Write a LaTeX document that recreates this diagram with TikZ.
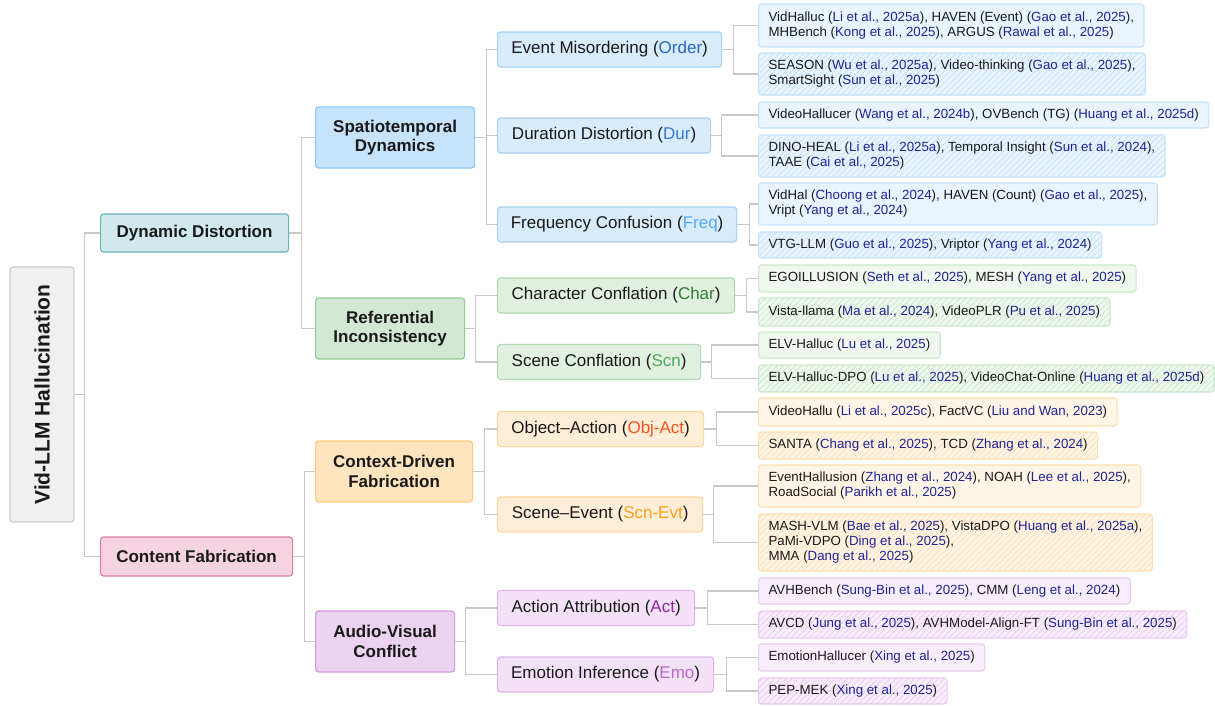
\documentclass[tikz,border=0pt]{standalone}
\usepackage{fontspec}
\setmainfont{Liberation Sans}
\usetikzlibrary{patterns.meta}
\definecolor{lineG}{RGB}{200,200,200}
\definecolor{txt}{RGB}{25,25,25}
\definecolor{citeC}{RGB}{30,35,150}
\definecolor{rootF}{RGB}{240,240,240}\definecolor{rootB}{RGB}{205,205,205}
\definecolor{dynF}{RGB}{210,233,235}\definecolor{dynB}{RGB}{105,182,188}
\definecolor{conF}{RGB}{246,211,224}\definecolor{conB}{RGB}{225,125,162}
% blue
\definecolor{bF2}{RGB}{198,227,251}\definecolor{bB2}{RGB}{140,200,245}
\definecolor{bF3}{RGB}{216,236,252}\definecolor{bB3}{RGB}{165,210,245}
\definecolor{bF4}{RGB}{233,244,254}\definecolor{bB4}{RGB}{196,226,250}
% green
\definecolor{gF2}{RGB}{211,232,211}\definecolor{gB2}{RGB}{145,203,145}
\definecolor{gF3}{RGB}{226,240,226}\definecolor{gB3}{RGB}{175,217,175}
\definecolor{gF4}{RGB}{239,247,239}\definecolor{gB4}{RGB}{202,232,202}
% orange
\definecolor{oF2}{RGB}{255,228,190}\definecolor{oB2}{RGB}{255,202,125}
\definecolor{oF3}{RGB}{255,238,215}\definecolor{oB3}{RGB}{255,212,155}
\definecolor{oF4}{RGB}{255,245,231}\definecolor{oB4}{RGB}{255,222,175}
% purple
\definecolor{pF2}{RGB}{234,210,240}\definecolor{pB2}{RGB}{212,155,222}
\definecolor{pF3}{RGB}{243,226,247}\definecolor{pB3}{RGB}{222,182,232}
\definecolor{pF4}{RGB}{248,238,251}\definecolor{pB4}{RGB}{232,202,240}
% abbreviations
\definecolor{cOrder}{RGB}{40,105,192}\definecolor{cDur}{RGB}{55,125,205}\definecolor{cFreq}{RGB}{85,170,245}
\definecolor{cChar}{RGB}{46,125,50}\definecolor{cScn}{RGB}{76,170,80}
\definecolor{cObj}{RGB}{244,81,30}\definecolor{cSE}{RGB}{250,160,30}
\definecolor{cAct}{RGB}{142,36,170}\definecolor{cEmo}{RGB}{186,104,200}
\newcommand\mycite[1]{\textcolor{citeC}{#1}}
\tikzset{
  conn/.style={draw=lineG, line width=1.2pt},
  box/.style={rounded corners=3pt, line width=1.2pt, inner sep=0pt, align=center, text=txt},
  rootbox/.style={box, draw=rootB, fill=rootF, font=\bfseries\fontsize{21}{24}\selectfont},
  lvA/.style={box, font=\bfseries\fontsize{17}{19.5}\selectfont, anchor=west},
  lvB/.style={box, font=\bfseries\fontsize{17}{19.5}\selectfont, anchor=west, minimum height=61pt},
  lvC/.style={box, font=\fontsize{17}{20}\selectfont, anchor=west, minimum height=35pt},
  leaf/.style={rounded corners=3pt, line width=1.1pt, anchor=west, align=left, inner xsep=10pt, inner ysep=3pt, text=txt, font=\fontsize{13.3}{15}\selectfont},
  hatch/.style={postaction={pattern={Lines[angle=45,distance=4.3pt,line width=0.7pt]}, pattern color=#1}},
}
\begin{document}
\begin{tikzpicture}[x=1pt,y=-1pt]
\useasboundingbox (0,0) rectangle (1215,705);
% root
\node[rootbox, rotate=90, minimum width=255pt, minimum height=64pt] (root) at (42,394.5) {Vid-LLM Hallucination};
% level 1
\node[lvA, draw=dynB, fill=dynF, minimum width=188pt, minimum height=38pt] (dyn) at (100,233) {Dynamic Distortion};
\node[lvA, draw=conB, fill=conF, minimum width=192pt, minimum height=39pt] (con) at (100,556.5) {Content Fabrication};
% level 2
\node[lvB, draw=bB2, fill=bF2, minimum width=159pt] (spa) at (315,137.5) {Spatiotemporal\\Dynamics};
\node[lvB, draw=gB2, fill=gF2, minimum width=149pt] (ref) at (315,328.5) {Referential\\Inconsistency};
\node[lvB, draw=oB2, fill=oF2, minimum width=157pt] (ctx) at (315,471.5) {Context-Driven\\Fabrication};
\node[lvB, draw=pB2, fill=pF2, minimum width=139pt] (avc) at (315,641.5) {Audio-Visual\\Conflict};
% level 3
\node[lvC, draw=bB3, fill=bF3, minimum width=224pt] (ord) at (497,49.5) {Event Misordering (\textcolor{cOrder}{Order})};
\node[lvC, draw=bB3, fill=bF3, minimum width=213pt] (dur) at (497,135.5) {Duration Distortion (\textcolor{cDur}{Dur})};
\node[lvC, draw=bB3, fill=bF3, minimum width=239pt] (frq) at (497,224.5) {Frequency Confusion (\textcolor{cFreq}{Freq})};
\node[lvC, draw=gB3, fill=gF3, minimum width=237pt] (chr) at (497,295.5) {Character Conflation (\textcolor{cChar}{Char})};
\node[lvC, draw=gB3, fill=gF3, minimum width=203pt] (scn) at (497,362) {Scene Conflation (\textcolor{cScn}{Scn})};
\node[lvC, draw=oB3, fill=oF3, minimum width=206pt] (oba) at (497,429) {Object--Action (\textcolor{cObj}{Obj-Act})};
\node[lvC, draw=oB3, fill=oF3, minimum width=205pt] (sev) at (497,514.5) {Scene--Event (\textcolor{cSE}{Scn-Evt})};
\node[lvC, draw=pB3, fill=pF3, minimum width=197pt] (act) at (497,608) {Action Attribution (\textcolor{cAct}{Act})};
\node[lvC, draw=pB3, fill=pF3, minimum width=216pt] (emo) at (497,674.5) {Emotion Inference (\textcolor{cEmo}{Emo})};
% leaves
\node[leaf, draw=bB4, fill=bF4, minimum height=43pt] (l1) at (758,25.5) {VidHalluc (\mycite{Li et al., 2025a}), HAVEN (Event) (\mycite{Gao et al., 2025}),\\MHBench (\mycite{Kong et al., 2025}), ARGUS (\mycite{Rawal et al., 2025})};
\node[leaf, draw=bB4, fill=bF4, hatch=bB4, minimum height=42pt] (l2) at (758,74) {SEASON (\mycite{Wu et al., 2025a}), Video-thinking (\mycite{Gao et al., 2025}),\\SmartSight (\mycite{Sun et al., 2025})};
\node[leaf, draw=bB4, fill=bF4, minimum height=26pt] (l3) at (758,115) {VideoHallucer (\mycite{Wang et al., 2024b}), OVBench (TG) (\mycite{Huang et al., 2025d})};
\node[leaf, draw=bB4, fill=bF4, hatch=bB4, minimum height=42pt] (l4) at (758,156) {DINO-HEAL (\mycite{Li et al., 2025a}), Temporal Insight (\mycite{Sun et al., 2024}),\\TAAE (\mycite{Cai et al., 2025})};
\node[leaf, draw=bB4, fill=bF4, minimum height=42pt] (l5) at (758,204) {VidHal (\mycite{Choong et al., 2024}), HAVEN (Count) (\mycite{Gao et al., 2025}),\\Vript (\mycite{Yang et al., 2024})};
\node[leaf, draw=bB4, fill=bF4, hatch=bB4, minimum height=26pt] (l6) at (758,245) {VTG-LLM (\mycite{Guo et al., 2025}), Vriptor (\mycite{Yang et al., 2024})};
\node[leaf, draw=gB4, fill=gF4, minimum height=27pt] (l7) at (758,278.5) {EGOILLUSION (\mycite{Seth et al., 2025}), MESH (\mycite{Yang et al., 2025})};
\node[leaf, draw=gB4, fill=gF4, hatch=gB4, minimum height=28pt] (l8) at (758,312) {Vista-llama (\mycite{Ma et al., 2024}), VideoPLR (\mycite{Pu et al., 2025})};
\node[leaf, draw=gB4, fill=gF4, minimum height=26pt] (l9) at (758,345) {ELV-Halluc (\mycite{Lu et al., 2025})};
\node[leaf, draw=gB4, fill=gF4, hatch=gB4, minimum height=27pt] (l10) at (758,378.5) {ELV-Halluc-DPO (\mycite{Lu et al., 2025}), VideoChat-Online (\mycite{Huang et al., 2025d})};
\node[leaf, draw=oB4, fill=oF4, minimum height=28pt] (l11) at (758,412) {VideoHallu (\mycite{Li et al., 2025c}), FactVC (\mycite{Liu and Wan, 2023})};
\node[leaf, draw=oB4, fill=oF4, hatch=oB4, minimum height=27pt] (l12) at (758,445.5) {SANTA (\mycite{Chang et al., 2025}), TCD (\mycite{Zhang et al., 2024})};
\node[leaf, draw=oB4, fill=oF4, minimum height=42pt] (l13) at (758,486) {EventHallusion (\mycite{Zhang et al., 2024}), NOAH (\mycite{Lee et al., 2025}),\\RoadSocial (\mycite{Parikh et al., 2025})};
\node[leaf, draw=oB4, fill=oF4, hatch=oB4, minimum height=57pt] (l14) at (758,542.5) {MASH-VLM (\mycite{Bae et al., 2025}), VistaDPO (\mycite{Huang et al., 2025a}),\\PaMi-VDPO (\mycite{Ding et al., 2025}),\\MMA (\mycite{Dang et al., 2025})};
\node[leaf, draw=pB4, fill=pF4, minimum height=26pt] (l15) at (758,591) {AVHBench (\mycite{Sung-Bin et al., 2025}), CMM (\mycite{Leng et al., 2024})};
\node[leaf, draw=pB4, fill=pF4, hatch=pB4, minimum height=27pt] (l16) at (758,624.5) {AVCD (\mycite{Jung et al., 2025}), AVHModel-Align-FT (\mycite{Sung-Bin et al., 2025})};
\node[leaf, draw=pB4, fill=pF4, minimum height=27pt] (l17) at (758,657.5) {EmotionHallucer (\mycite{Xing et al., 2025})};
\node[leaf, draw=pB4, fill=pF4, hatch=pB4, minimum height=26pt] (l18) at (758,691) {PEP-MEK (\mycite{Xing et al., 2025})};
% connectors
\draw[conn] (root.south) -- ++(10,0) |- (dyn.west);
\draw[conn] (root.south) -- ++(10,0) |- (con.west);
\draw[conn] (dyn.east) -- ++(12,0) |- (spa.west);
\draw[conn] (dyn.east) -- ++(12,0) |- (ref.west);
\draw[conn] (con.east) -- ++(11,0) |- (ctx.west);
\draw[conn] (con.east) -- ++(11,0) |- (avc.west);
\draw[conn] (spa.east) -- ++(11,0) |- (ord.west);
\draw[conn] (spa.east) -- ++(11,0) |- (dur.west);
\draw[conn] (spa.east) -- ++(11,0) |- (frq.west);
\draw[conn] (ref.east) -- ++(10,0) |- (chr.west);
\draw[conn] (ref.east) -- ++(10,0) |- (scn.west);
\draw[conn] (ctx.east) -- ++(11,0) |- (oba.west);
\draw[conn] (ctx.east) -- ++(11,0) |- (sev.west);
\draw[conn] (avc.east) -- ++(10,0) |- (act.west);
\draw[conn] (avc.east) -- ++(10,0) |- (emo.west);
\draw[conn] (ord.east) -- ++(11,0) |- (l1.west);
\draw[conn] (ord.east) -- ++(11,0) |- (l2.west);
\draw[conn] (dur.east) -- ++(10,0) |- (l3.west);
\draw[conn] (dur.east) -- ++(10,0) |- (l4.west);
\draw[conn] (frq.east) -- ++(12,0) |- (l5.west);
\draw[conn] (frq.east) -- ++(12,0) |- (l6.west);
\draw[conn] (chr.east) -- ++(11,0) |- (l7.west);
\draw[conn] (chr.east) -- ++(11,0) |- (l8.west);
\draw[conn] (scn.east) -- ++(10,0) |- (l9.west);
\draw[conn] (scn.east) -- ++(10,0) |- (l10.west);
\draw[conn] (oba.east) -- ++(12,0) |- (l11.west);
\draw[conn] (oba.east) -- ++(12,0) |- (l12.west);
\draw[conn] (sev.east) -- ++(10,0) |- (l13.west);
\draw[conn] (sev.east) -- ++(10,0) |- (l14.west);
\draw[conn] (act.east) -- ++(12,0) |- (l15.west);
\draw[conn] (act.east) -- ++(12,0) |- (l16.west);
\draw[conn] (emo.east) -- ++(12,0) |- (l17.west);
\draw[conn] (emo.east) -- ++(12,0) |- (l18.west);
\end{tikzpicture}
\end{document}
